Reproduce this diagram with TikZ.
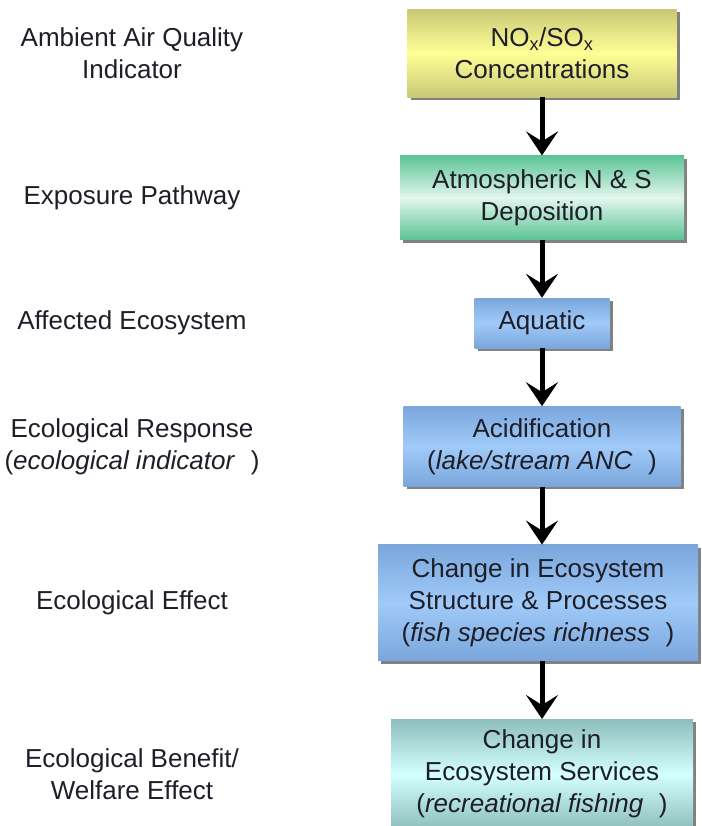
\documentclass[tikz,border=0pt]{standalone}
\usepackage{fontspec}
\setmainfont{Liberation Sans}
\usepackage{tikz}
\usetikzlibrary{arrows.meta, positioning, shadows}
\definecolor{YelEdge}{RGB}{200,200,118}
\definecolor{YelMid}{RGB}{255,255,150}
\definecolor{GrnEdge}{RGB}{92,196,150}
\definecolor{GrnMid}{RGB}{226,246,238}
\definecolor{BluEdge}{RGB}{122,166,220}
\definecolor{BluMid}{RGB}{160,202,248}
\definecolor{CynEdge}{RGB}{140,190,188}
\definecolor{CynMid}{RGB}{212,255,255}
\definecolor{TextDark}{RGB}{30,30,40}
\tikzset{
  basebox/.style={rectangle,align=center,text=TextDark,
    font=\fontsize{26}{32}\selectfont,
    drop shadow={shadow xshift=3pt,shadow yshift=-3pt,fill=black!70,opacity=0.7}},
  airbox/.style={basebox,top color=YelEdge,bottom color=YelEdge,middle color=YelMid},
  pathbox/.style={basebox,top color=GrnEdge,bottom color=GrnEdge,middle color=GrnMid},
  ecobox/.style={basebox,top color=BluEdge,bottom color=BluEdge,middle color=BluMid},
  servbox/.style={basebox,top color=CynEdge,bottom color=CynEdge,middle color=CynMid},
  lbl/.style={align=center,text=TextDark,font=\fontsize{26}{32}\selectfont},
  flowarrow/.style={-{Stealth[length=24pt,width=32pt,inset=10pt]},line width=5pt,black}
}

\begin{document}
\begin{tikzpicture}[x=1pt,y=1pt,node distance=58pt]
  \useasboundingbox (0,0) rectangle (701,-826);
  \node[airbox,anchor=north,minimum width=269pt,minimum height=88pt] (conc) at (542,-9)
    {NO\textsubscript{x}/SO\textsubscript{x}\\Concentrations};
  \node[pathbox,below=of conc,minimum width=284pt,minimum height=84pt] (depo)
    {Atmospheric N \& S\\Deposition};
  \node[ecobox,below=of depo,minimum width=135pt,minimum height=50pt] (aqua)
    {Aquatic};
  \node[ecobox,below=of aqua,minimum width=277pt,minimum height=80pt] (acid)
    {Acidification\\(\textit{lake/stream ANC}\hspace{0.6em})};
  \node[ecobox,below=of acid,minimum width=320pt,minimum height=116pt,xshift=-4pt] (struct)
    {Change in Ecosystem\\Structure \& Processes\\(\textit{fish species richness}\hspace{0.6em})};
  \node[servbox,below=of struct,minimum width=302pt,minimum height=110pt,xshift=4pt] (serv)
    {Change in\\Ecosystem Services\\(\textit{recreational fishing}\hspace{0.6em})};
  % left-hand column of labels
  \coordinate (lx) at (132,0);
  \node[lbl] (lconc) at (lx |- conc) {Ambient Air Quality\\Indicator};
  \node[lbl] (ldepo) at (lx |- depo) {Exposure Pathway};
  \node[lbl] (laqua) at (lx |- aqua) {Affected Ecosystem};
  \node[lbl] (lacid) at (lx |- acid) {Ecological Response\\(\textit{ecological indicator}\hspace{0.6em})};
  \node[lbl] (lstruct) at (lx |- struct) {Ecological Effect};
  \node[lbl] (lserv) at (lx |- serv) {Ecological Benefit/\\Welfare Effect};
  \foreach \a/\b in {conc/depo,depo/aqua,aqua/acid,acid/struct,struct/serv}
    \draw[flowarrow] (\a.south -| conc) -- (\b.north -| conc);
\end{tikzpicture}
\end{document}
